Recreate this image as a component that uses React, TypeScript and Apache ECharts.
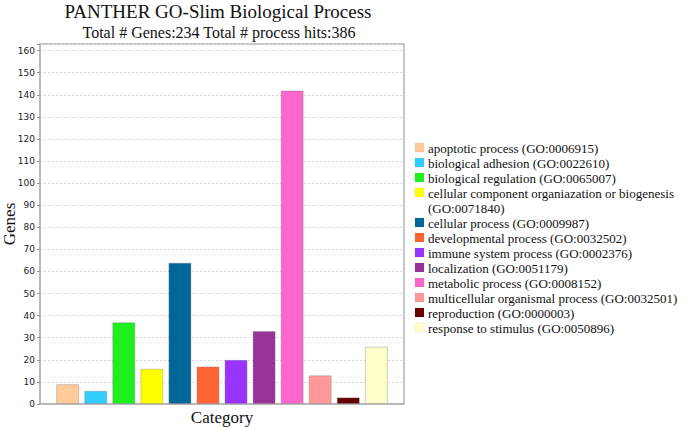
import React, { useEffect, useRef } from "react";
import * as echarts from "echarts";

const titleText = "PANTHER GO-Slim Biological Process";
const subtitleText = "Total # Genes:234 Total # process hits:386";
const categoryName = "Category";
const yAxisName = "Genes";

const processNames = [
  "apoptotic process (GO:0006915)",
  "biological adhesion (GO:0022610)",
  "biological regulation (GO:0065007)",
  "cellular component organiazation or biogenesis\n(GO:0071840)",
  "cellular process (GO:0009987)",
  "developmental process (GO:0032502)",
  "immune system process (GO:0002376)",
  "localization (GO:0051179)",
  "metabolic process (GO:0008152)",
  "multicellular organismal process (GO:0032501)",
  "reproduction (GO:0000003)",
  "response to stimulus (GO:0050896)",
];

const geneCounts = [9, 6, 37, 16, 64, 17, 20, 33, 142, 13, 3, 26];

const barColors = [
  "#FFCC99",
  "#33CCFF",
  "#1EF01E",
  "#FFFF00",
  "#006699",
  "#FF6633",
  "#9933FF",
  "#993399",
  "#FF66CC",
  "#FF9999",
  "#660000",
  "#FFFFCC",
];

const yTicks = [0, 10, 20, 30, 40, 50, 60, 70, 80, 90, 100, 110, 120, 130, 140, 150, 160];

export default function App() {
  const ref = useRef<HTMLDivElement>(null);

  useEffect(() => {
    document.body.style.margin = "0";
    if (!ref.current) return;
    const chart = echarts.init(ref.current, null, { renderer: "svg" });

    const serif = "Liberation Serif";

    // Legend built from data arrays
    const legendItems: any[] = [];
    let ly = 142;
    const lineH = 15;
    processNames.forEach((name, i) => {
      const lines = name.split("\n").length;
      legendItems.push({
        type: "rect",
        shape: { x: 415, y: ly + 1, width: 9, height: 9 },
        style: { fill: barColors[i], stroke: "rgba(0,0,0,0.08)", lineWidth: 0.5 },
      });
      legendItems.push({
        type: "text",
        x: 428,
        y: ly - 1,
        style: {
          text: name,
          fill: "#111",
          fontFamily: serif,
          fontSize: 13,
          lineHeight: lineH,
          verticalAlign: "top",
        },
      });
      ly += lineH * lines;
    });

    const option: any = {
      animation: false,
      backgroundColor: "#fff",
      title: [
        {
          text: titleText,
          left: 218,
          top: 2,
          padding: 0,
          textAlign: "center",
          textStyle: { fontFamily: serif, fontSize: 19, fontWeight: "normal", color: "#111" },
        },
        {
          text: subtitleText,
          left: 219,
          top: 24,
          padding: 0,
          textAlign: "center",
          textStyle: { fontFamily: serif, fontSize: 16, fontWeight: "normal", color: "#111" },
        },
      ],
      grid: {
        left: 40,
        top: 44,
        width: 364,
        height: 360,
        show: true,
        borderColor: "#b4b4b4",
        borderWidth: 1.5,
        backgroundColor: "transparent",
        containLabel: false,
        outerBoundsMode: "none",
      },
      xAxis: {
        type: "category",
        data: [categoryName],
        name: categoryName,
        nameLocation: "middle",
        nameGap: 5,
        nameMoveOverlap: false,
        nameTextStyle: { fontFamily: serif, fontSize: 17, color: "#111", verticalAlign: "top" },
        axisLabel: { show: false },
        axisTick: { show: false },
        axisLine: { lineStyle: { color: "#b4b4b4", width: 1.5 } },
      },
      yAxis: {
        type: "value",
        min: 0,
        max: 163,
        interval: 10,
        name: yAxisName,
        nameLocation: "middle",
        nameGap: 22,
        nameMoveOverlap: false,
        nameTextStyle: { fontFamily: serif, fontSize: 17, color: "#111" },
        axisLine: { show: true, lineStyle: { color: "#b4b4b4", width: 1.5 } },
        axisTick: { show: true, length: 3, lineStyle: { color: "#999" } },
        axisLabel: {
          fontFamily: "DejaVu Sans",
          fontSize: 9,
          color: "#222",
          margin: 5,
          formatter: (v: number) => (yTicks.indexOf(v) >= 0 ? String(v) : ""),
        },
        splitLine: {
          show: true,
          lineStyle: { color: "#d6d6d6", type: [2, 2], width: 1 },
        },
      },
      series: processNames.map((name, i) => ({
        type: "bar",
        name,
        data: [geneCounts[i]],
        barWidth: 23,
        barGap: "22%",
        itemStyle: {
          color: barColors[i],
          borderColor: "rgba(120,120,120,0.35)",
          borderWidth: 1,
        },
      })),
      graphic: legendItems,
    };

    chart.setOption(option);
    return () => chart.dispose();
  }, []);

  return <div ref={ref} style={{ width: 685, height: 428 }} />;
}
